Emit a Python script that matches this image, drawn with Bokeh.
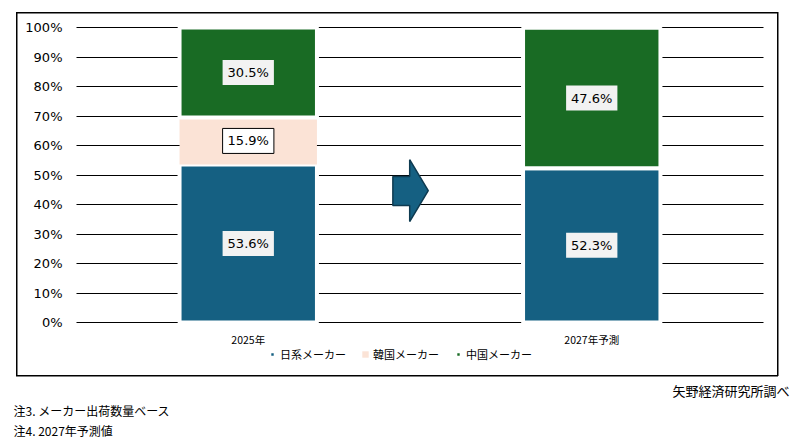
from bokeh.plotting import figure
from bokeh.models import (ColumnDataSource, Range1d, FixedTicker, PrintfTickFormatter,
                          Legend, LegendItem, Label)
from bokeh.core.properties import value
from bokeh.embed import file_html
from bokeh.resources import INLINE

# data
categories = ["2025年", "2027年予測"]
makers = ["日系メーカー", "韓国メーカー", "中国メーカー"]
japan = [53.6, 52.3]
korea = [15.9, 0.0]
china = [30.5, 47.6]
colors = ["#156082", "#FBE3D6", "#196B24"]
y_ticks = list(range(0, 101, 10))
source_note = "矢野経済研究所調べ"
notes = ["注3. メーカー出荷数量ベース", "注4. 2027年予測値"]

JP = "Noto Sans CJK JP"

# page geometry (px): the frame is the whole canvas, the plot area sits inside it
W, H = 795, 438
area_left, area_right, area_top, area_bottom = 76, 763, 27, 322
px_x = (area_right - area_left) / len(categories)
px_y = (area_bottom - area_top) / 100
x_range = Range1d(-area_left / px_x, len(categories) + (W - area_right) / px_x)
y_range = Range1d(-(H - area_bottom) / px_y, 100 + area_top / px_y)

p = figure(x_range=x_range, y_range=y_range, title=None, width=W, height=H,
           output_backend="svg", toolbar_location=None, min_border=0)
p.outline_line_color = None
p.background_fill_color = None
p.border_fill_color = None

# thin box around the chart
p.styles = {
    "background-color": "white",
    "background-image": ", ".join(["linear-gradient(#000, #000)"] * 4),
    "background-size": "762px 1.5px, 762px 1.5px, 1.5px 364px, 1.5px 364px",
    "background-position": "16px 12px, 16px 375px, 16px 12px, 777px 12px",
    "background-repeat": "no-repeat",
}

cat_x = [i + 0.5 for i in range(len(categories))]

# axes pinned to the plot area corner
p.yaxis.fixed_location = 0
p.yaxis.ticker = FixedTicker(ticks=y_ticks)
p.yaxis.formatter = PrintfTickFormatter(format="%d%%")
p.yaxis.major_label_standoff = 14
p.yaxis.major_label_text_font = "DejaVu Sans"
p.yaxis.major_label_text_font_size = "13px"
p.xaxis.fixed_location = 0
p.xaxis.ticker = FixedTicker(ticks=cat_x)
p.xaxis.major_label_overrides = dict(zip(cat_x, categories))
p.xaxis.major_label_standoff = 9
p.xaxis.major_label_text_font = JP
p.xaxis.major_label_text_font_size = "10.5px"
for ax in (p.xaxis, p.yaxis):
    ax.axis_line_color = None
    ax.major_tick_line_color = None
    ax.minor_tick_line_color = None
    ax.major_tick_out = 0
    ax.major_tick_in = 0
    ax.major_label_text_color = "black"

p.xgrid.grid_line_color = None
grid = p.ygrid[0]
if "cross_bounds" in grid.properties():
    grid.ticker = FixedTicker(ticks=y_ticks)
    grid.cross_bounds = (0, len(categories))
    grid.grid_line_color = "black"
    grid.grid_line_width = 1
else:
    grid.grid_line_color = None
    p.segment(x0=0, x1=len(categories), y0=y_ticks, y1=y_ticks,
              line_color="black", line_width=1)

# stacked bars
src = ColumnDataSource(dict(x=cat_x, japan=japan, korea=korea, china=china))
bars = p.vbar_stack(["japan", "korea", "china"], x="x", width=0.4, source=src,
                    fill_color=colors, line_color="white", line_alpha=[1, 0, 1],
                    line_width=4)

# value labels in the middle of each segment
lx, ly, lt, lbg, lborder = [], [], [], [], []
for i, cx in enumerate(cat_x):
    bottom = 0
    for k, vals in enumerate([japan, korea, china]):
        v = vals[i]
        if v > 0:
            lx.append(cx)
            ly.append(bottom + v / 2)
            lt.append(f"{v:.1f}%")
            lbg.append("white" if k == 1 else "#F2F2F2")
            lborder.append(1 if k == 1 else 0)
        bottom += v
lab = ColumnDataSource(dict(x=lx, y=ly, t=lt, bg=lbg, ba=lborder))
p.text(x="x", y="y", text="t", source=lab, text_align="center", text_baseline="middle",
       text_font=value("DejaVu Sans"), text_font_size="13px", text_color="black",
       background_fill_color="bg", border_line_color="black", border_line_alpha="ba",
       border_line_width=1, padding=5)

# arrow between the two bars
mid = len(categories) / 2
arrow_dx = [-0.079, -0.030, -0.030, 0.024, -0.030, -0.030, -0.079]
arrow_y = [49.5, 49.5, 55.2, 44.7, 34.2, 39.7, 39.7]
p.patch([mid + d for d in arrow_dx], arrow_y, fill_color="#156082",
        line_color="#0E3A50", line_width=1.5)

# legend under the category labels
legend = Legend(items=[LegendItem(label=m, renderers=[r]) for m, r in zip(makers, bars)],
                orientation="horizontal", location=(268, H - 356 - 6),
                glyph_width=8, glyph_height=8, label_height=12, label_standoff=4,
                spacing=15, padding=0, margin=0, border_line_color=None,
                background_fill_alpha=0,
                label_text_font=JP, label_text_font_size="11px", label_text_color="black")
p.add_layout(legend)

# source and notes under the box
p.add_layout(Label(x=789, y=H - 390, x_units="screen", y_units="screen", text=source_note,
                   text_align="right", text_baseline="middle", text_font=JP,
                   text_font_size="13px", text_color="black"))
for j, t in enumerate(notes):
    p.add_layout(Label(x=13, y=H - 410 - 19.5 * j, x_units="screen", y_units="screen",
                       text=t, text_align="left", text_baseline="middle", text_font=JP,
                       text_font_size="12px", text_color="black"))

open("out.html", "w", encoding="utf-8").write(file_html(p, INLINE))
